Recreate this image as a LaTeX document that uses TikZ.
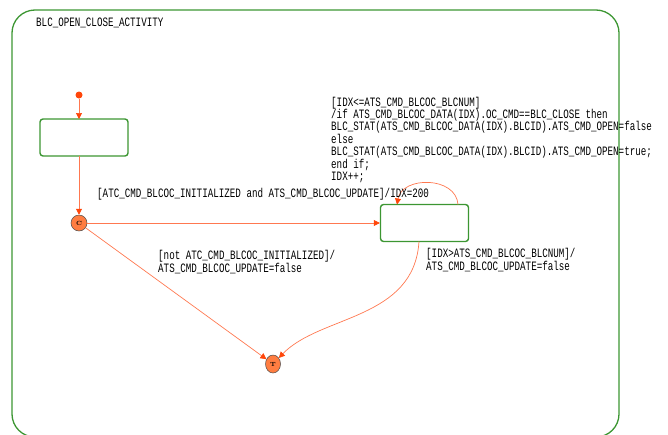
\documentclass[tikz,border=0pt]{standalone}
\usepackage{fontspec}
\usetikzlibrary{arrows.meta,shapes.geometric}
\newfontfamily\diagfont[FakeStretch=0.72]{Liberation Mono}
\definecolor{framegreen}{RGB}{60,150,50}
\definecolor{trline}{RGB}{255,120,80}
\definecolor{trtip}{RGB}{255,70,10}
\definecolor{pseudofill}{RGB}{255,125,65}
\tikzset{
  lbl/.style={inner sep=0pt, font=\diagfont\fontsize{12.8}{12.4}\selectfont, align=left, anchor=base west},
  statebox/.style={draw=framegreen, line width=1.4pt, rounded corners=3pt, fill=white, minimum width=88pt, minimum height=37pt, inner sep=0pt},
  pseudo/.style={ellipse, draw=black!70, line width=0.5pt, fill=pseudofill, inner sep=0pt, font=\bfseries\fontsize{6}{6}\selectfont},
  trans/.style={draw=trline, line width=0.7pt, -{Triangle[length=6pt,width=6pt,color=trtip]}},
}
\begin{document}
\begin{tikzpicture}[x=1pt,y=-1pt]
\useasboundingbox (0,0) rectangle (668,434);
% outer frame
\draw[framegreen, line width=1.3pt, rounded corners=23pt] (12,10) rectangle (619,437);
\node[lbl] (title) at (36,26) {BLC\_OPEN\_CLOSE\_ACTIVITY};
% states
\node[statebox] (s1) at (84,137.5) {};
\node[statebox] (s2) at (424.5,223) {};
\node[circle, fill=trtip, inner sep=0pt, minimum size=7pt] (init) at (79,95) {};
\node[pseudo, minimum width=16pt, minimum height=16pt] (c) at (79,223) {C};
\node[pseudo, minimum width=15pt, minimum height=18pt] (t) at (273,364) {T};
\coordinate (s1b) at (79,156);
\coordinate (s1t) at (79,119);
\coordinate (s2b) at (419,241.5);
\coordinate (loopA) at (458,204.5);
\coordinate (loopB) at (397,204.5);
% transitions
\draw[trans] (init) -- (s1t);
\draw[trans] (s1b) -- (c);
\draw[trans] (c) -- (s2.west);
\draw[trans] (loopA) .. controls (456,176) and (402,176) .. (loopB);
\draw[trans] (c) -- (t);
\draw[trans] (s2b) .. controls (414,320) and (320,315) .. (t);
% labels (base = baseline of last line)
\node[lbl] (l1) at (331,180.5) {[IDX<=ATS\_CMD\_BLCOC\_BLCNUM]\\/if ATS\_CMD\_BLCOC\_DATA(IDX).OC\_CMD==BLC\_CLOSE then\\BLC\_STAT(ATS\_CMD\_BLCOC\_DATA(IDX).BLCID).ATS\_CMD\_OPEN=false\\else\\BLC\_STAT(ATS\_CMD\_BLCOC\_DATA(IDX).BLCID).ATS\_CMD\_OPEN=true;\\end if;\\IDX++;};
\node[lbl] (l2) at (97,197) {[ATC\_CMD\_BLCOC\_INITIALIZED and ATS\_CMD\_BLCOC\_UPDATE]/IDX=200};
\node[lbl] (l3) at (158,272) {[not ATC\_CMD\_BLCOC\_INITIALIZED]/\\ATS\_CMD\_BLCOC\_UPDATE=false};
\node[lbl] (l4) at (426,270) {[IDX>ATS\_CMD\_BLCOC\_BLCNUM]/\\ATS\_CMD\_BLCOC\_UPDATE=false};
\end{tikzpicture}
\end{document}
